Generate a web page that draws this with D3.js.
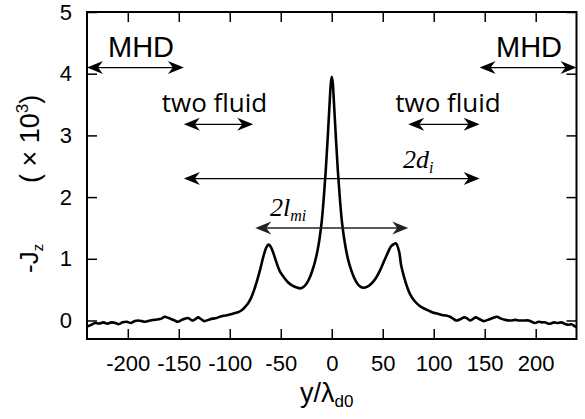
<!DOCTYPE html>
<html>
<head>
<meta charset="utf-8">
<script src="https://cdn.jsdelivr.net/npm/d3@7"></script>
<style>
  html, body { margin: 0; padding: 0; background: #fff; }
  svg { display: block; }
</style>
</head>
<body>
<svg id="chart" width="585" height="419"></svg>
<script>
// ---- data ----
const yPos = [-240,-236,-232,-228,-224,-220,-216,-212,-209,-205,-201,-197,-193,-190,-186,-183,-178,-174,-170,-167,-164,-160,-157,-154,-151,-147,-144,-141,-138,-136,-133,-131,-128,-125,-121,-117,-113,-108,-104,-99,-95,-91,-88,-85,-82,-79,-76,-73,-70,-67,-64,-62,-60,-57,-54,-51,-47,-43,-39,-35,-31,-28,-25,-22,-19,-16,-13,-10,-8,-6,-4,-2,-1,0,1,2,4,6,8,10,13,16,19,22,25,28,31,35,39,43,47,51,55,58,61,63,66,68,71,74,77,81,86,91,95,99,104,108,112,116,119,122,126,130,133,136,139,141,145,149,153,158,162,166,170,175,180,184,188,193,196,199,203,206,209,212,215,218,221,225,228,232,235,238,240];
const jz = [-0.10,-0.07,-0.04,-0.05,-0.03,-0.05,-0.03,-0.04,-0.06,-0.03,-0.02,-0.04,-0.01,0.00,-0.01,-0.02,0.00,0.01,0.02,0.03,0.06,0.04,0.02,0.00,-0.02,0.01,0.03,0.04,0.01,0.00,0.03,0.05,0.02,-0.01,0.01,0.03,0.04,0.07,0.08,0.10,0.12,0.14,0.17,0.22,0.28,0.37,0.50,0.66,0.84,1.04,1.19,1.23,1.20,1.08,0.93,0.80,0.70,0.62,0.57,0.54,0.52,0.54,0.59,0.68,0.81,0.98,1.22,1.58,1.95,2.40,2.95,3.55,3.82,3.95,3.85,3.58,2.98,2.42,1.97,1.60,1.24,0.99,0.82,0.69,0.60,0.55,0.53,0.55,0.60,0.68,0.80,0.95,1.10,1.20,1.24,1.25,1.12,0.90,0.70,0.54,0.42,0.32,0.24,0.19,0.16,0.13,0.11,0.09,0.08,0.06,0.03,0.00,0.02,0.05,0.03,0.00,0.03,0.05,0.02,-0.01,0.01,0.04,0.06,0.03,0.01,0.00,0.01,0.00,0.00,0.00,-0.02,-0.04,-0.02,-0.03,-0.03,-0.05,-0.05,-0.03,-0.04,-0.03,-0.05,-0.07,-0.06,-0.09,-0.11];
const xTicks = [-200,-150,-100,-50,0,50,100,150,200];
const yTicks = [0,1,2,3,4,5];
// annotation arrows: [from, to, level]
const arrowFrom  = [-240, 145, -145, 75, -145, -75];
const arrowTo    = [-145, 240,  -77, 145, 145, 75];
const arrowLevel = [4.1, 4.1, 3.18, 3.18, 2.3, 1.5];

// ---- layout ----
const svg = d3.select("#chart");
const L = 87, R = 576.5, T = 12, B = 339;
const x = d3.scaleLinear().domain([-240, 240]).range([L, R]);
const y = d3.scaleLinear().domain([-0.3, 5]).range([B, T]);
const sans = "'Liberation Sans', Arial, Helvetica, sans-serif";
const fmt = d => String(d);

// axes
const gB = svg.append("g").attr("transform", `translate(0,${B})`)
  .call(d3.axisBottom(x).tickValues(xTicks).tickFormat(fmt).tickSizeInner(-10).tickSizeOuter(0).tickPadding(16));
const gT = svg.append("g").attr("transform", `translate(0,${T})`)
  .call(d3.axisTop(x).tickValues(xTicks).tickSizeInner(-10).tickSizeOuter(0).tickFormat(""));
const gL = svg.append("g").attr("transform", `translate(${L},0)`)
  .call(d3.axisLeft(y).tickValues(yTicks).tickFormat(fmt).tickSizeInner(-10).tickSizeOuter(0).tickPadding(15));
const gR = svg.append("g").attr("transform", `translate(${R},0)`)
  .call(d3.axisRight(y).tickValues(yTicks).tickSizeInner(-10).tickSizeOuter(0).tickFormat(""));
[gB, gT, gL, gR].forEach(g => {
  g.select(".domain").remove();
  g.selectAll(".tick line").attr("stroke", "#000").attr("stroke-width", 1.5);
  g.selectAll(".tick text").attr("fill", "#000").style("font-family", sans).style("font-size", "22px");
});

// frame
svg.append("rect").attr("x", L).attr("y", T).attr("width", R - L).attr("height", B - T)
  .attr("fill", "none").attr("stroke", "#000").attr("stroke-width", 2);

// curve
const pts = yPos.map((v, i) => [v, jz[i]]);
const clipId = "clipPlot";
svg.append("clipPath").attr("id", clipId).append("rect")
  .attr("x", L).attr("y", T).attr("width", R - L).attr("height", B - T);
svg.append("path").datum(pts)
  .attr("clip-path", `url(#${clipId})`)
  .attr("fill", "none").attr("stroke", "#000").attr("stroke-width", 2.6)
  .attr("stroke-linejoin", "round")
  .attr("d", d3.line().x(d => x(d[0])).y(d => y(d[1])).curve(d3.curveCatmullRom.alpha(0.5)));

// arrows
function head(px, py, dir) {
  const l = 16, w = 6.5, n = 11;
  return `M${px},${py} L${px - dir*l},${py - w} L${px - dir*n},${py} L${px - dir*l},${py + w} Z`;
}
arrowFrom.forEach((f, i) => {
  const x1 = x(f), x2 = x(arrowTo[i]), yy = y(arrowLevel[i]);
  const col = i === 5 ? "#222" : "#000";
  svg.append("line").attr("x1", x1 + 4).attr("x2", x2 - 4).attr("y1", yy).attr("y2", yy)
    .attr("stroke", col).attr("stroke-width", i === 5 ? 1.6 : 1.3);
  svg.append("path").attr("d", head(x1, yy, -1)).attr("fill", col);
  svg.append("path").attr("d", head(x2, yy, 1)).attr("fill", col);
});

// labels
svg.append("text").attr("x", 141).attr("y", 57).attr("text-anchor", "middle")
  .style("font-family", sans).style("font-size", "29px").text("MHD");
svg.append("text").attr("x", 529).attr("y", 57).attr("text-anchor", "middle")
  .style("font-family", sans).style("font-size", "29px").text("MHD");
const fl = "'Open Sans', 'Noto Sans', sans-serif";
svg.append("text").attr("x", 214.5).attr("y", 112).attr("text-anchor", "middle")
  .style("font-family", fl).style("font-size", "26px").text("two fluid");
svg.append("text").attr("x", 448).attr("y", 112).attr("text-anchor", "middle")
  .style("font-family", fl).style("font-size", "26px").text("two fluid");

const serif = "'Liberation Serif', 'Times New Roman', serif";
const t1 = svg.append("text").attr("x", 403).attr("y", 168)
  .style("font-family", serif).style("font-style", "italic").style("font-size", "26px");
t1.append("tspan").text("2d");
t1.append("tspan").attr("dy", 5).style("font-size", "16px").text("i");
const t2 = svg.append("text").attr("x", 270).attr("y", 216)
  .style("font-family", serif).style("font-style", "italic").style("font-size", "26px");
t2.append("tspan").text("2l");
t2.append("tspan").attr("dy", 5).style("font-size", "16px").text("mi");

// x label
const xl = svg.append("text").attr("x", 300).attr("y", 402)
  .style("font-family", sans).style("font-size", "27px");
xl.append("tspan").text("y/λ");
xl.append("tspan").attr("dy", 5).style("font-size", "17px").text("d0");

// y label
const yl1 = svg.append("text").attr("transform", "translate(38,273) rotate(-90)")
  .style("font-family", sans).style("font-size", "26px");
yl1.append("tspan").text("-J");
yl1.append("tspan").attr("dy", 5).style("font-size", "15px").text("z");
const yl2 = svg.append("text").attr("transform", "translate(39,183) rotate(-90)")
  .style("font-family", sans).style("font-size", "27px");
yl2.append("tspan").text("( × 10");
yl2.append("tspan").attr("dy", -11).style("font-size", "17px").text("3");
yl2.append("tspan").attr("dy", 11).text(")");
</script>
</body>
</html>
